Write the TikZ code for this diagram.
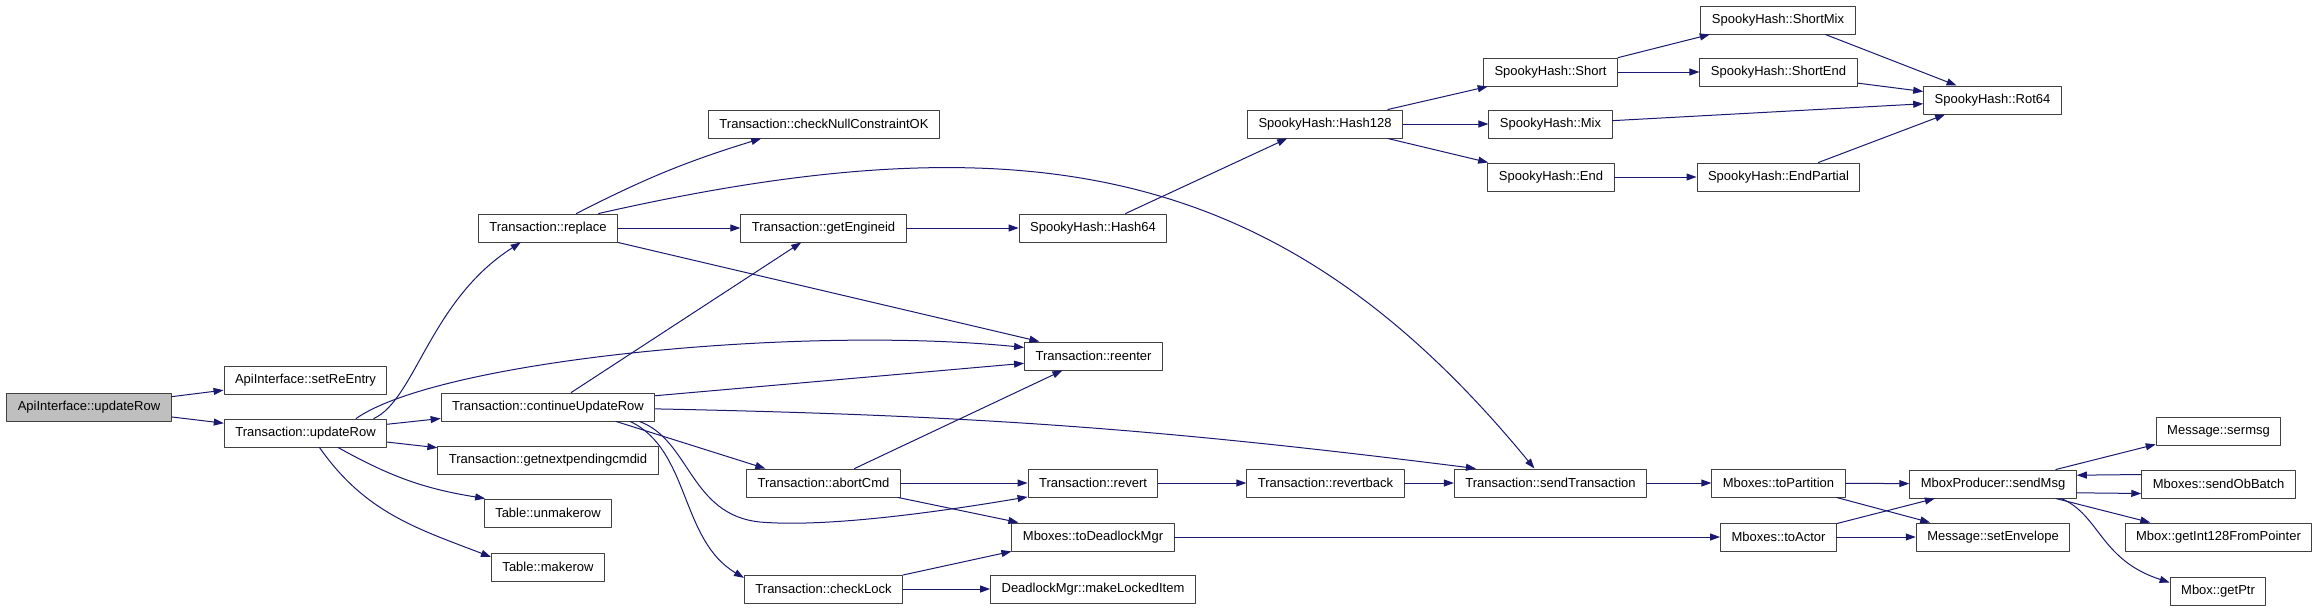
\documentclass[tikz,border=0pt]{standalone}
\usepackage{fontspec}
\setmainfont{Liberation Sans}
\usetikzlibrary{arrows.meta}
\definecolor{edgeblue}{HTML}{191970}
\definecolor{boxgray}{HTML}{404040}
\definecolor{rootgray}{HTML}{BFBFBF}
\tikzset{fn/.style={draw=boxgray,fill=white,line width=1pt,minimum height=28pt,inner xsep=11pt,inner ysep=0pt,font=\fontsize{13}{15}\selectfont},
	call/.style={->,draw=edgeblue,line width=1pt}}

\begin{document}
\begin{tikzpicture}[line cap=round,line join=round,>={Triangle[length=10pt,width=7pt]},x=1pt,y=-1pt]
		\useasboundingbox (0,0) rectangle (2317,611);
		% Niveau 0
		\node[fn,fill=rootgray] (api) at (89,407) {ApiInterface::updateRow};
		% Niveau 1
		\node[fn] (setre) at (305.5,380) {ApiInterface::setReEntry};
		\node[fn] (tupd) at (305.5,433) {Transaction::updateRow};
		% Niveau 2
		\node[fn] (repl) at (548,228) {Transaction::replace};
		\node[fn] (cupd) at (548,407) {Transaction::continueUpdateRow};
		\node[fn] (gnext) at (548,460) {Transaction::getnextpendingcmdid};
		\node[fn] (unmake) at (548,513) {Table::unmakerow};
		\node[fn] (make) at (548,567) {Table::makerow};
		% Niveau 3
		\node[fn] (chk) at (824,124) {Transaction::checkNullConstraintOK};
		\node[fn] (geteng) at (823.5,228) {Transaction::getEngineid};
		\node[fn] (abort) at (823.5,483) {Transaction::abortCmd};
		\node[fn] (chkl) at (823.5,589) {Transaction::checkLock};
		% Niveau 4
		\node[fn] (h64) at (1093,228) {SpookyHash::Hash64};
		\node[fn] (reent) at (1093.5,356) {Transaction::reenter};
		\node[fn] (rev) at (1093,483) {Transaction::revert};
		\node[fn] (tdm) at (1093,537) {Mboxes::toDeadlockMgr};
		\node[fn] (mkli) at (1093,589) {DeadlockMgr::makeLockedItem};
		% Niveau 5
		\node[fn] (h128) at (1325,124) {SpookyHash::Hash128};
		\node[fn] (rvb) at (1325.5,483) {Transaction::revertback};
		% Niveau 6
		\node[fn] (short) at (1550.5,72) {SpookyHash::Short};
		\node[fn] (mix) at (1550.5,124) {SpookyHash::Mix};
		\node[fn] (hend) at (1551,177) {SpookyHash::End};
		\node[fn] (sendt) at (1550.5,483) {Transaction::sendTransaction};
		% Niveau 7
		\node[fn] (smix) at (1778,20) {SpookyHash::ShortMix};
		\node[fn] (shend) at (1778.5,72) {SpookyHash::ShortEnd};
		\node[fn] (epart) at (1778.5,177) {SpookyHash::EndPartial};
		\node[fn] (tpart) at (1778.5,483) {Mboxes::toPartition};
		\node[fn] (tact) at (1778.5,537) {Mboxes::toActor};
		% Niveau 8
		\node[fn] (rot) at (1992.5,100) {SpookyHash::Rot64};
		\node[fn] (smsg) at (1993,484) {MboxProducer::sendMsg};
		\node[fn] (senv) at (1993,537) {Message::setEnvelope};
		% Niveau 9
		\node[fn] (serm) at (2218.5,431) {Message::sermsg};
		\node[fn] (sob) at (2218.5,484) {Mboxes::sendObBatch};
		\node[fn] (gint) at (2218.5,537) {Mbox::getInt128FromPointer};
		\node[fn] (gptr) at (2218,591) {Mbox::getPtr};
		% appels depuis api et tupd
		\draw[call] (api) -- (setre);
		\draw[call] (api) -- (tupd);
		\draw[call] (tupd.12) .. controls (415,400) and (430,300) .. (repl.208);
		\draw[call] (tupd.16) .. controls (440,360) and (800,325) .. (reent.173);
		\draw[call] (tupd) -- (cupd);
		\draw[call] (tupd) -- (gnext);
		\draw[call] (tupd.-24) to[bend right=10] (unmake.167);
		\draw[call] (tupd.-46) to[out=-55,in=159] (make.170);
		% appels depuis repl
		\draw[call] (repl.27) to[bend left=5] (chk.193);
		\draw[call] (repl) -- (geteng);
		\draw[call] (repl.south east) -- (reent.165);
		\draw[call] (repl.16) .. controls (1033,115) and (1285,165) .. (sendt.138);
		% appels depuis cupd
		\draw[call] (cupd.32) -- (geteng.213);
		\draw[call] (cupd.6) -- (reent.186);
		\draw[call] (cupd.-1) to[bend left=3] (sendt.169);
		\draw[call] (cupd.-12) -- (abort.166);
		\draw[call] (cupd.-9) .. controls (690,440) and (690,515) .. (760,522) .. controls (830,528) and (950,510) .. (rev.192);
		\draw[call] (cupd.-10) .. controls (690,450) and (680,540) .. (chkl.172);
		% abort et checkLock
		\draw[call] (abort.25) -- (reent.205);
		\draw[call] (abort) -- (rev);
		\draw[call] (abort.-11) -- (tdm.169);
		\draw[call] (chkl.10) -- (tdm.190);
		\draw[call] (chkl) -- (mkli);
		% hachage
		\draw[call] (geteng) -- (h64);
		\draw[call] (h64.24) -- (h128.201);
		\draw[call] (h128.13) -- (short.193);
		\draw[call] (h128) -- (mix);
		\draw[call] (h128.-13) -- (hend.167);
		\draw[call] (short.12) -- (smix.192);
		\draw[call] (short) -- (shend);
		\draw[call] (hend) -- (epart);
		\draw[call] (smix.-17) -- (rot.158);
		\draw[call] (shend.-8) -- (rot.173);
		\draw[call] (mix) -- (rot);
		\draw[call] (epart.20) -- (rot.197);
		% envoi
		\draw[call] (rev) -- (rvb);
		\draw[call] (rvb) -- (sendt);
		\draw[call] (sendt) -- (tpart);
		\draw[call] (tdm) -- (tact);
		\draw[call] (tpart) -- (smsg);
		\draw[call] (tpart.-14) -- (senv.167);
		\draw[call] (tact.13) -- (smsg.194);
		\draw[call] (tact) -- (senv);
		\draw[call] (smsg.13) -- (serm.192);
		\draw[call] (smsg.-6) -- (sob.187);
		\draw[call] (sob.173) -- (smsg.6);
		\draw[call] (smsg.-13) -- (gint.168);
		\draw[call] (smsg.-12) .. controls (2100,515) and (2100,560) .. (gptr.170);
\end{tikzpicture}
\end{document}
